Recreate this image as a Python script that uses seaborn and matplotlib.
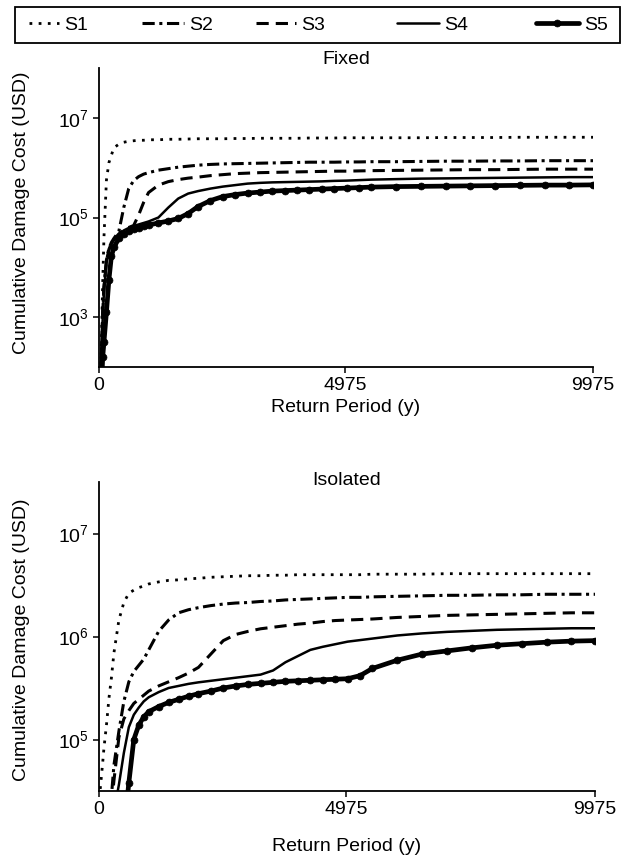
import matplotlib
matplotlib.use("Agg")
import matplotlib.pyplot as plt
from matplotlib.patches import Rectangle
import seaborn as sns
from matplotlib.ticker import FixedLocator, NullLocator, LogFormatterSciNotation

# Return period grid (years)
RP = [25, 50, 75, 100, 150, 200, 250, 300, 400, 500, 600, 700, 800, 900, 1000,
      1200, 1400, 1600, 1800, 2000, 2250, 2500, 2750, 3000, 3250, 3500, 3750,
      4000, 4250, 4500, 4750, 5000, 5250, 5500, 6000, 6500, 7000, 7500, 8000,
      8500, 9000, 9500, 9975]

# log10 of cumulative damage cost (USD) - Fixed
fixed_S1 = [1.5, 2.6, 3.7, 4.6, 5.75, 6.1, 6.25, 6.4, 6.47, 6.51, 6.53, 6.54, 6.55, 6.55, 6.56,
            6.56, 6.57, 6.57, 6.575, 6.58, 6.58, 6.58, 6.585, 6.585, 6.59, 6.59, 6.59,
            6.59, 6.595, 6.595, 6.595, 6.6, 6.6, 6.6, 6.6, 6.6, 6.605, 6.605, 6.605,
            6.61, 6.61, 6.61, 6.61]
fixed_S2 = [1.5, 2.3, 3.1, 3.6, 4.15, 4.38, 4.5, 4.58, 4.72, 5.2, 5.58, 5.74, 5.82, 5.87, 5.9,
            5.95, 5.98, 6.01, 6.03, 6.05, 6.065, 6.075, 6.08, 6.085, 6.09, 6.095, 6.1,
            6.105, 6.11, 6.11, 6.11, 6.115, 6.115, 6.12, 6.12, 6.125, 6.13, 6.13, 6.135,
            6.135, 6.14, 6.14, 6.14]
fixed_S3 = [1.5, 2.3, 3.1, 3.6, 4.12, 4.36, 4.48, 4.56, 4.67, 4.76, 4.8, 4.84, 5.05, 5.3, 5.5,
            5.65, 5.72, 5.76, 5.79, 5.81, 5.84, 5.86, 5.88, 5.89, 5.9, 5.905, 5.91,
            5.915, 5.92, 5.925, 5.93, 5.93, 5.935, 5.94, 5.945, 5.95, 5.955, 5.96, 5.96,
            5.965, 5.97, 5.97, 5.97]
fixed_S4 = [1.4, 2.2, 3.0, 3.5, 4.08, 4.33, 4.46, 4.54, 4.66, 4.74, 4.79, 4.83, 4.86, 4.89, 4.92,
            5.0, 5.2, 5.38, 5.48, 5.53, 5.58, 5.62, 5.65, 5.68, 5.695, 5.705, 5.71,
            5.715, 5.72, 5.725, 5.735, 5.74, 5.75, 5.76, 5.77, 5.78, 5.785, 5.79, 5.795,
            5.8, 5.805, 5.81, 5.81]
fixed_S5 = [1.0, 1.6, 2.2, 2.5, 3.1, 3.75, 4.22, 4.4, 4.58, 4.66, 4.72, 4.76, 4.79, 4.82, 4.85,
            4.89, 4.93, 4.98, 5.08, 5.22, 5.34, 5.42, 5.46, 5.49, 5.51, 5.53, 5.54,
            5.55, 5.56, 5.57, 5.58, 5.59, 5.6, 5.61, 5.62, 5.625, 5.63, 5.635, 5.64,
            5.645, 5.65, 5.65, 5.655]

# log10 of cumulative damage cost (USD) - Isolated
iso_S1 = [4.52, 4.65, 4.78, 4.92, 5.14, 5.4, 5.6, 5.84, 6.16, 6.33, 6.42, 6.45, 6.475, 6.49, 6.51,
          6.53, 6.545, 6.55, 6.56, 6.565, 6.575, 6.58, 6.585, 6.59, 6.59, 6.595, 6.595,
          6.6, 6.6, 6.6, 6.6, 6.6, 6.6, 6.605, 6.605, 6.605, 6.61, 6.61, 6.61,
          6.61, 6.61, 6.61, 6.61]
iso_S2 = [3.0, 3.2, 3.4, 3.6, 3.9, 4.2, 4.45, 4.75, 5.08, 5.37, 5.56, 5.66, 5.72, 5.78, 5.87,
          6.05, 6.16, 6.23, 6.26, 6.28, 6.3, 6.315, 6.325, 6.33, 6.34, 6.345, 6.355,
          6.36, 6.365, 6.37, 6.375, 6.38, 6.38, 6.385, 6.39, 6.395, 6.4, 6.4, 6.405,
          6.405, 6.41, 6.41, 6.41]
iso_S3 = [2.8, 3.1, 3.4, 3.6, 3.9, 4.1, 4.35, 4.6, 5.02, 5.2, 5.28, 5.35, 5.39, 5.43, 5.47,
          5.52, 5.56, 5.6, 5.645, 5.7, 5.83, 5.96, 6.02, 6.05, 6.075, 6.09, 6.105,
          6.12, 6.13, 6.145, 6.155, 6.16, 6.165, 6.17, 6.185, 6.195, 6.205, 6.21, 6.215,
          6.22, 6.225, 6.23, 6.23]
iso_S4 = [2.5, 2.8, 3.0, 3.2, 3.5, 3.8, 4.05, 4.3, 4.56, 4.87, 5.12, 5.24, 5.31, 5.37, 5.41,
          5.46, 5.5, 5.52, 5.54, 5.555, 5.57, 5.585, 5.6, 5.615, 5.63, 5.67, 5.75,
          5.81, 5.87, 5.9, 5.925, 5.95, 5.965, 5.98, 6.01, 6.03, 6.045, 6.055, 6.065,
          6.07, 6.075, 6.08, 6.08]
iso_S5 = [2.0, 2.3, 2.5, 2.7, 3.0, 3.3, 3.5, 3.7, 3.9, 4.1, 4.58, 5.0, 5.14, 5.22, 5.27,
          5.32, 5.36, 5.39, 5.42, 5.445, 5.47, 5.5, 5.52, 5.535, 5.545, 5.555, 5.565,
          5.57, 5.575, 5.58, 5.585, 5.59, 5.62, 5.69, 5.77, 5.83, 5.86, 5.89, 5.915,
          5.93, 5.945, 5.955, 5.96]

SERIES = ["S1", "S2", "S3", "S4", "S5"]
PANELS = [("Fixed", [fixed_S1, fixed_S2, fixed_S3, fixed_S4, fixed_S5]),
          ("Isolated", [iso_S1, iso_S2, iso_S3, iso_S4, iso_S5])]

sns.set_style("ticks")
plt.rcParams["font.family"] = ["Liberation Sans", "DejaVu Sans"]
plt.rcParams["mathtext.fontset"] = "custom"
plt.rcParams["mathtext.rm"] = "Liberation Sans"
plt.rcParams["mathtext.it"] = "Liberation Sans:italic"
plt.rcParams["mathtext.bf"] = "Liberation Sans:bold"
plt.rcParams["text.color"] = "black"
plt.rcParams["axes.labelcolor"] = "black"
plt.rcParams["xtick.color"] = "black"
plt.rcParams["ytick.color"] = "black"

STY = {
    "S1": dict(linewidth=2.0, linestyle=(0, (1, 2.3))),
    "S2": dict(linewidth=2.2, linestyle=(0, (4, 1.5, 1, 1.5))),
    "S3": dict(linewidth=2.2, linestyle=(0, (4, 2.3))),
    "S4": dict(linewidth=1.8, linestyle="-"),
    "S5": dict(linewidth=3.4, linestyle="-", marker="o", markersize=5,
               markeredgecolor="black", markerfacecolor="black", markeredgewidth=0.5),
}

W, H = 628, 861
fig = plt.figure(figsize=(W / 100, H / 100), dpi=100)


def px_axes(l, t, r, b):
    return fig.add_axes([l / W, 1 - b / H, (r - l) / W, (b - t) / H])


ax1 = px_axes(99, 68, 593, 367)
ax2 = px_axes(99, 482, 595, 791)

cfg = [
    (ax1, (1e2, 1e8), [1e3, 1e5, 1e7], 1.030, -0.137, 0.515),
    (ax2, (10 ** 4.5, 10 ** 7.5), [1e5, 1e6, 1e7], 1.006, -0.181, 0.489),
]

for (ax, ylim, yt, ty, xly, yly), (title, data) in zip(cfg, PANELS):
    for name, logv in zip(SERIES, data):
        yv = [10 ** v for v in logv]
        sns.lineplot(x=RP, y=yv, ax=ax, color="black", estimator=None, sort=False,
                     label=name, legend=False, **STY[name])
    ax.set_yscale("log")
    ax.set_xlim(0, 9975)
    ax.set_ylim(*ylim)
    ax.set_xticks([0, 4975, 9975])
    ax.set_xticklabels(["0", "4975", "9975"])
    ax.yaxis.set_major_locator(FixedLocator(yt))
    ax.yaxis.set_major_formatter(LogFormatterSciNotation())
    ax.yaxis.set_minor_locator(NullLocator())
    ax.xaxis.set_minor_locator(NullLocator())
    ax.tick_params(axis="both", direction="out", length=4, width=1.1, labelsize=14,
                   colors="black", pad=3)
    for s in ["top", "right"]:
        ax.spines[s].set_visible(False)
    for s in ["left", "bottom"]:
        ax.spines[s].set_color("black")
        ax.spines[s].set_linewidth(1.3)
    ax.text(0.5, ty, title, transform=ax.transAxes, ha="center", va="center", fontsize=14)
    ax.set_xlabel("Return Period (y)", fontsize=14)
    ax.set_ylabel("Cumulative Damage Cost (USD)", fontsize=14)
    ax.xaxis.set_label_coords(0.5, xly)
    ax.xaxis.label.set_va("center")
    ax.yaxis.set_label_coords(-0.156, yly)
    ax.yaxis.label.set_va("center")
    if ax.get_legend() is not None:
        ax.get_legend().remove()

# Legend: framed strip at top, one entry per slot
handles, labels = ax1.get_legend_handles_labels()
fig.patches.append(Rectangle((15 / W, 1 - 43 / H), 605 / W, 36 / H,
                             transform=fig.transFigure, fill=False,
                             edgecolor="black", linewidth=1.3))
slot_x = [29, 142, 256, 397, 536]
hlen = [1.55, 2.15, 2.05, 2.15, 2.2]
for h, lab, sx, hl in zip(handles, labels, slot_x, hlen):
    fig.legend([h], [lab], loc="center left",
               bbox_to_anchor=(sx / W, 1 - 25 / H), frameon=False,
               borderpad=0, borderaxespad=0, fontsize=14, handlelength=hl,
               handletextpad=0.25)

fig.savefig("out.png", dpi=100)
